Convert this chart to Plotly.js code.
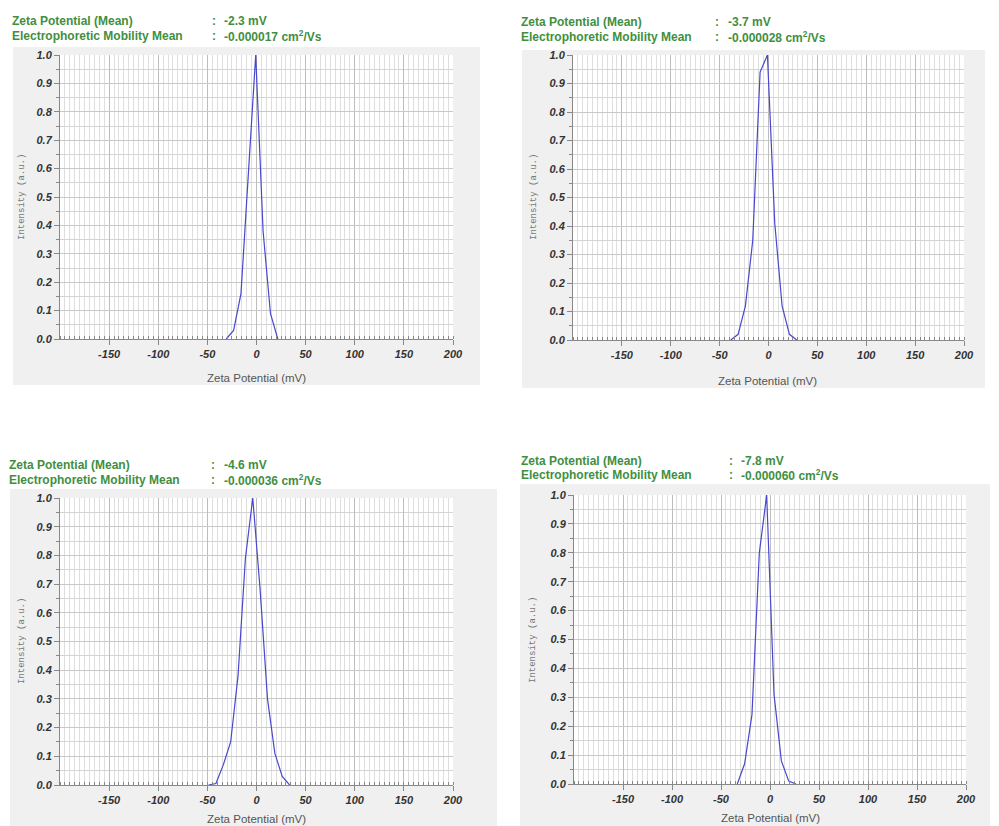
<!DOCTYPE html>
<html>
<head>
<meta charset="utf-8">
<script src="https://cdn.plot.ly/plotly-3.0.1.min.js"></script>
<style>html,body{margin:0;padding:0;background:#fff;}#chart{width:999px;height:826px;}</style>
</head>
<body>
<div id="chart"></div>
<script>
// ---- data ----
const zeta1 = [-30.8, -23.3, -15.8, -8.3, -0.8, 6.7, 14.2, 21.7];
const inten1 = [0, 0.03, 0.16, 0.6, 1.0, 0.38, 0.09, 0];

const zeta2 = [-38.6, -31.1, -23.6, -16.1, -8.6, -1.1, 6.4, 13.9, 21.4, 28.9];
const inten2 = [0, 0.02, 0.12, 0.35, 0.94, 1.0, 0.41, 0.12, 0.02, 0];

const zeta3 = [-48.8, -41.3, -33.8, -26.3, -18.8, -11.3, -3.8, 3.7, 11.2, 18.7, 26.2, 33.7];
const inten3 = [0, 0.005, 0.07, 0.15, 0.38, 0.79, 1.0, 0.68, 0.30, 0.11, 0.03, 0];

const zeta4 = [-33.4, -25.9, -18.4, -10.9, -3.4, 4.1, 11.6, 19.1, 26.6];
const inten4 = [0, 0.07, 0.24, 0.80, 1.0, 0.31, 0.08, 0.01, 0];

const meanZeta = ["-2.3 mV", "-3.7 mV", "-4.6 mV", "-7.8 mV"];
const meanMobility = ["-0.000017 cm<sup>2</sup>/Vs", "-0.000028 cm<sup>2</sup>/Vs", "-0.000036 cm<sup>2</sup>/Vs", "-0.000060 cm<sup>2</sup>/Vs"];
const headerLabels = ["Zeta Potential (Mean)", "Electrophoretic Mobility Mean"];
const xTickVals = [-150, -100, -50, 0, 50, 100, 150, 200];
const xTickText = ["-150", "-100", "-50", "0", "50", "100", "150", "200"];
const xTitle = "Zeta Potential (mV)";
const yTitle = "Intensity (a.u.)";

// ---- layout geometry (pixels) ----
const W = 999, H = 826;
const panels = [
  {plot:[60,453,55,339],  bg:[13,480,47,385], head:[11,211,223,21.5,36], ytitle:[22,197], xtitle:[256,378]},
  {plot:[573,964,55,340], bg:[522,985,50,388], head:[520,714,727,22,37], ytitle:[534,197], xtitle:[767,381]},
  {plot:[60,453,498,785], bg:[10,497,489,826], head:[8,210,223,464.5,479.5], ytitle:[22,641], xtitle:[256,819]},
  {plot:[574,966,495,784], bg:[520,990,484,826], head:[520,728,740,461,475.5], ytitle:[533,640], xtitle:[770,818]}
];
const xs = [zeta1, zeta2, zeta3, zeta4];
const ys = [inten1, inten2, inten3, inten4];

const px = v => v / W;
const py = v => 1 - v / H;

const green = "#3f8f3f";
const tickFont = {family: "Liberation Sans, Arial, sans-serif", size: 11, color: "#333", weight: "bold", style: "italic"};

const data = [];
const layout = {
  width: W, height: H,
  margin: {l:0, r:0, t:0, b:0},
  paper_bgcolor: "#ffffff",
  plot_bgcolor: "#ffffff",
  showlegend: false,
  shapes: [],
  annotations: []
};

panels.forEach((p, i) => {
  const n = i === 0 ? "" : String(i + 1);
  data.push({
    x: xs[i], y: ys[i], type: "scatter", mode: "lines",
    xaxis: "x" + n, yaxis: "y" + n,
    line: {color: "#4848cc", width: 1.2},
    hoverinfo: "skip"
  });
  layout["xaxis" + n] = {
    domain: [px(p.plot[0]), px(p.plot[1])],
    anchor: "y" + n,
    range: [-200, 200],
    tickmode: "array", tickvals: xTickVals, ticktext: xTickText,
    ticks: "outside", ticklen: 5, tickcolor: "#888", tickwidth: 1,
    showline: true, linecolor: "#888", linewidth: 1,
    showgrid: true, gridcolor: "#bdbdbd", gridwidth: 1,
    zeroline: false,
    tickfont: tickFont,
    minor: {tickmode: "linear", tick0: 0, dtick: 5, showgrid: true, gridcolor: "#dedede", gridwidth: 1, ticks: "inside", ticklen: 3, tickcolor: "#888"},
    fixedrange: true
  };
  layout["yaxis" + n] = {
    domain: [py(p.plot[3]), py(p.plot[2])],
    anchor: "x" + n,
    range: [0, 1],
    tickmode: "linear", tick0: 0, dtick: 0.1, tickformat: ".1f",
    ticks: "outside", ticklen: 5, tickcolor: "#888", tickwidth: 1,
    showline: true, linecolor: "#888", linewidth: 1,
    showgrid: true, gridcolor: "#c8c8c8", gridwidth: 1,
    zeroline: false,
    tickfont: tickFont,
    minor: {tickmode: "linear", tick0: 0, dtick: 0.05, showgrid: true, gridcolor: "#d4d4d4", ticks: "outside", ticklen: 3, tickcolor: "#888"},
    fixedrange: true
  };
  // gray panel backgrounds
  layout.shapes.push({type:"rect", xref:"paper", yref:"paper", layer:"below",
    x0: px(p.bg[0]), x1: px(p.bg[1]), y0: py(p.bg[3]), y1: py(p.bg[2]),
    fillcolor:"#f0f0f0", line:{width:0}});
  // white plot area
  layout.shapes.push({type:"rect", xref:"x" + n + " domain", yref:"y" + n + " domain", layer:"below",
    x0:0, x1:1, y0:0, y1:1, fillcolor:"#ffffff", line:{width:0}});

  const hf = {family:"Liberation Sans, Arial, sans-serif", size:12, color:green, weight:"bold"};
  const lines = [p.head[3], p.head[4]];
  const vals = [meanZeta[i], meanMobility[i]];
  lines.forEach((yy, k) => {
    layout.annotations.push({xref:"paper", yref:"paper", x:px(p.head[0]), y:py(yy), xanchor:"left", yanchor:"middle",
      text: headerLabels[k], showarrow:false, font: hf, borderpad:0});
    layout.annotations.push({xref:"paper", yref:"paper", x:px(p.head[1]), y:py(yy), xanchor:"left", yanchor:"middle",
      text: ":", showarrow:false, font: hf, borderpad:0});
    layout.annotations.push({xref:"paper", yref:"paper", x:px(p.head[2]), y:py(yy), xanchor:"left", yanchor:"middle",
      text: vals[k], showarrow:false, font: hf, borderpad:0});
  });
  layout.annotations.push({xref:"paper", yref:"paper", x:px(p.ytitle[0]), y:py(p.ytitle[1]), xanchor:"center", yanchor:"middle",
    text: yTitle, textangle:-90, showarrow:false,
    font:{family:"Liberation Mono, Courier New, monospace", size:9, color:"#777"}});
  layout.annotations.push({xref:"paper", yref:"paper", x:px(p.xtitle[0]), y:py(p.xtitle[1]), xanchor:"center", yanchor:"middle",
    text: xTitle, showarrow:false,
    font:{family:"Liberation Sans, Arial, sans-serif", size:11.5, color:"#555"}});
});

Plotly.newPlot("chart", data, layout, {displayModeBar:false, staticPlot:true});
</script>
</body>
</html>
